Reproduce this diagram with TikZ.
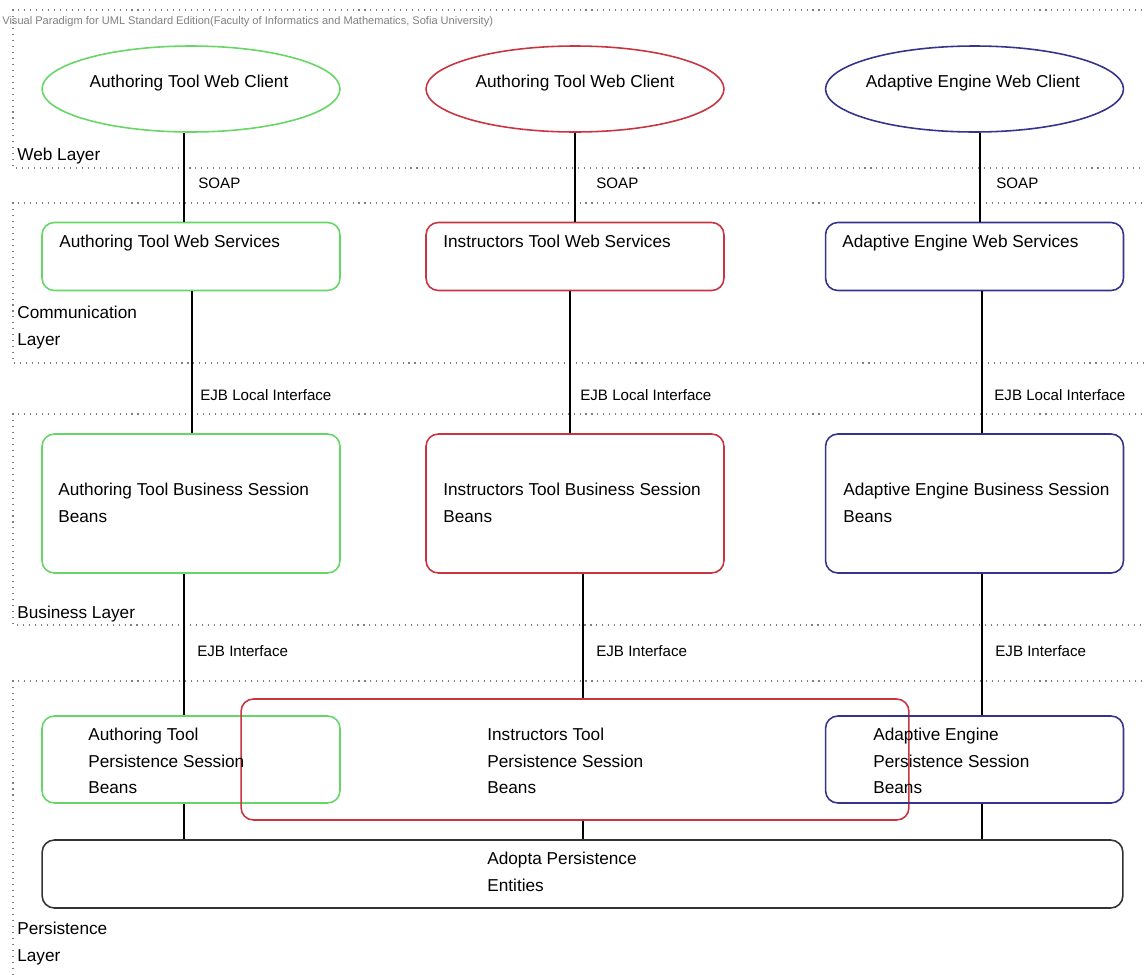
\documentclass[tikz,border=0pt]{standalone}
\usepackage{fontspec}
\setmainfont{Liberation Sans}
\usepackage{tikz}
\usetikzlibrary{shapes.geometric}
\usepackage{xcolor}
\definecolor{atgreen}{RGB}{102,214,102}
\definecolor{itred}{RGB}{200,52,64}
\definecolor{aeblue}{RGB}{52,52,140}
\newcommand{\boxfont}{\fontsize{9.8}{15}\selectfont}
\newcommand{\linkfont}{\fontsize{8.6}{12}\selectfont}

\begin{document}
\begin{tikzpicture}[x=0.02cm, y=-0.02cm,
  layer/.style={draw=black!50, line width=0.6pt, dash pattern=on 0.6pt off 2.8pt},
  client/.style={ellipse, draw, line width=0.9pt, inner sep=0, minimum width=5.96cm, minimum height=1.72cm},
  comp/.style={rectangle, draw, line width=0.9pt, rounded corners=7pt, inner sep=0, minimum width=5.96cm},
  boxtext/.style={font=\boxfont, align=left, inner sep=0, anchor=north west},
  link/.style={line width=0.8pt},
  linklabel/.style={font=\linkfont, inner sep=0, anchor=west}]
\useasboundingbox (0,0) rectangle (1145,974);
\clip (0,0) rectangle (1145,974);

% layers
\draw [layer] (1160,10) -- (13,10) -- (13,168) -- (1160,168);
\draw [layer] (1160,203) -- (13,203) -- (13,363) -- (1160,363);
\draw [layer] (1160,414) -- (13,414) -- (13,625) -- (1160,625);
\draw [layer] (1160,681) -- (13,681) -- (13,990);
\node [anchor=west, inner sep=0, font=\fontsize{6.3}{7.5}\selectfont, text=black!50] (vpnote) at (2,22)
  {Visual Paradigm for UML Standard Edition(Faculty of Informatics and Mathematics, Sofia University)};
\node [boxtext] (weblayer) at (17,148) {Web Layer};
\node [boxtext] (commlayer) at (17,306) {Communication\\Layer};
\node [boxtext] (bizlayer) at (17,606) {Business Layer};
\node [boxtext] (perslayer) at (17,922) {Persistence\\Layer};

% web clients
\node [client, draw=atgreen] (atclient) at (191,89) {};
\node [client, draw=itred] (itclient) at (575,89) {};
\node [client, draw=aeblue] (aeclient) at (974.5,89) {};
\node [font=\boxfont, inner sep=0] (atclienttext) at (189,83) {Authoring Tool Web Client};
\node [font=\boxfont, inner sep=0] (itclienttext) at (575,83) {Authoring Tool Web Client};
\node [font=\boxfont, inner sep=0] (aeclienttext) at (973,83) {Adaptive Engine Web Client};

% web services
\node [comp, draw=atgreen, minimum height=1.36cm] (atws) at (191,256.5) {};
\node [comp, draw=itred, minimum height=1.36cm] (itws) at (575,256.5) {};
\node [comp, draw=aeblue, minimum height=1.36cm] (aews) at (974.5,256.5) {};
\node [boxtext] (atwstext) at (59,235) {Authoring Tool Web Services};
\node [boxtext] (itwstext) at (443,235) {Instructors Tool Web Services};
\node [boxtext] (aewstext) at (842,235) {Adaptive Engine Web Services};

% business session beans
\node [comp, draw=atgreen, minimum height=2.78cm] (atbiz) at (191,503.5) {};
\node [comp, draw=itred, minimum height=2.78cm] (itbiz) at (575,503.5) {};
\node [comp, draw=aeblue, minimum height=2.78cm] (aebiz) at (974.5,503.5) {};
\node [boxtext] (atbiztext) at (58,483) {Authoring Tool Business Session\\Beans};
\node [boxtext] (itbiztext) at (443,483) {Instructors Tool Business Session\\Beans};
\node [boxtext] (aebiztext) at (843,483) {Adaptive Engine Business Session\\Beans};

% persistence session beans
\node [comp, draw=atgreen, minimum height=1.74cm] (atpers) at (191,759.5) {};
\node [comp, draw=itred, minimum width=13.36cm, minimum height=2.42cm] (itpers) at (575,759.5) {};
\node [comp, draw=aeblue, minimum height=1.74cm] (aepers) at (974.5,759.5) {};
\node [boxtext] (atperstext) at (88,728) {Authoring Tool\\Persistence Session\\Beans};
\node [boxtext] (itperstext) at (487,728) {Instructors Tool\\Persistence Session\\Beans};
\node [boxtext] (aeperstext) at (873,728) {Adaptive Engine\\Persistence Session\\Beans};

% entities
\node [comp, draw=black!80, minimum width=21.62cm, minimum height=1.36cm] (adopta) at (582.5,874) {};
\node [boxtext] (adoptatext) at (487,852) {Adopta Persistence\\Entities};

% connectors
\coordinate (atx1) at (184,0);
\coordinate (itx1) at (575,0);
\coordinate (aex1) at (980,0);
\coordinate (atx2) at (192,0);
\coordinate (itx2) at (570,0);
\coordinate (aex2) at (982,0);
\coordinate (atx3) at (184,0);
\coordinate (itx3) at (583,0);
\coordinate (aex3) at (982,0);
\draw [link] (atclient.south -| atx1) -- (atws.north -| atx1);
\draw [link] (itclient.south -| itx1) -- (itws.north -| itx1);
\draw [link] (aeclient.south -| aex1) -- (aews.north -| aex1);
\draw [link] (atws.south -| atx2) -- (atbiz.north -| atx2);
\draw [link] (itws.south -| itx2) -- (itbiz.north -| itx2);
\draw [link] (aews.south -| aex2) -- (aebiz.north -| aex2);
\draw [link] (atbiz.south -| atx3) -- (atpers.north -| atx3);
\draw [link] (itbiz.south -| itx3) -- (itpers.north -| itx3);
\draw [link] (aebiz.south -| aex3) -- (aepers.north -| aex3);
\draw [link] (atpers.south -| atx3) -- (adopta.north -| atx3);
\draw [link] (itpers.south -| itx3) -- (adopta.north -| itx3);
\draw [link] (aepers.south -| aex3) -- (adopta.north -| aex3);

\node [linklabel] (atsoap) at (198,183) {SOAP};
\node [linklabel] (itsoap) at (596,183) {SOAP};
\node [linklabel] (aesoap) at (996,183) {SOAP};
\node [linklabel] (atlocal) at (200,395) {EJB Local Interface};
\node [linklabel] (itlocal) at (580,395) {EJB Local Interface};
\node [linklabel] (aelocal) at (994,395) {EJB Local Interface};
\node [linklabel] (atremote) at (197,651) {EJB Interface};
\node [linklabel] (itremote) at (596,651) {EJB Interface};
\node [linklabel] (aeremote) at (995,651) {EJB Interface};
\end{tikzpicture}
\end{document}
